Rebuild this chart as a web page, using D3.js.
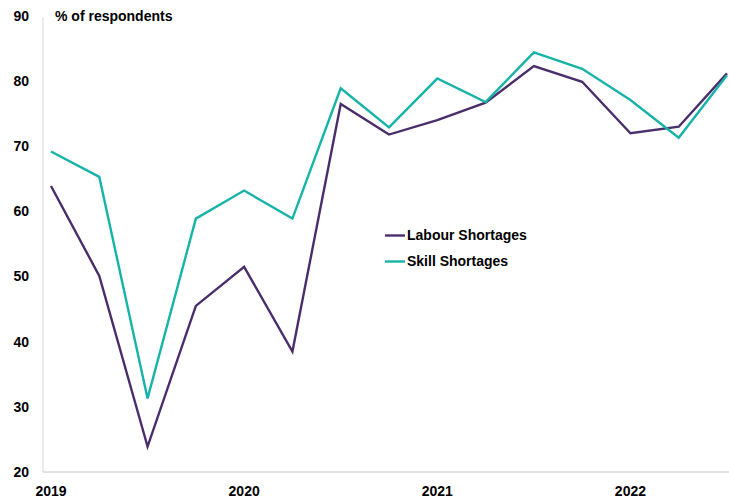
<!DOCTYPE html>
<html>
<head>
<meta charset="utf-8">
<script src="https://cdn.jsdelivr.net/npm/d3@7"></script>
<style>
  body { margin: 0; background: #fff; }
  svg { display: block; font-family: "Liberation Sans", Arial, sans-serif; }
</style>
</head>
<body>
<svg id="chart" width="729" height="499"></svg>
<script>
// quarterly survey, 2019 Q1 .. 2022 Q3
const quarters = [
  "2019Q1", "2019Q2", "2019Q3", "2019Q4",
  "2020Q1", "2020Q2", "2020Q3", "2020Q4",
  "2021Q1", "2021Q2", "2021Q3", "2021Q4",
  "2022Q1", "2022Q2", "2022Q3",
];
const labour = [63.9, 50.1, 23.9, 45.5, 51.5, 38.5, 76.5, 71.8, 74.0, 76.7, 82.3, 79.9, 72.0, 73.0, 81.2];
const skill = [69.2, 65.3, 31.3, 58.9, 63.2, 58.9, 78.9, 72.9, 80.4, 76.8, 84.4, 81.9, 77.1, 71.3, 80.9];
const yTicks = [20, 30, 40, 50, 60, 70, 80, 90];
const yearTicks = ["2019Q1", "2020Q1", "2021Q1", "2022Q1"];

const width = 729,
  height = 499,
  margin = { top: 16, right: 2, bottom: 27, left: 43 };

const svg = d3.select("#chart");

const x = d3.scalePoint()
  .domain(quarters)
  .range([51, width - margin.right]);

const y = d3.scaleLinear()
  .domain([20, 90])
  .range([height - margin.bottom, margin.top]);

const series = [
  { name: "Labour Shortages", values: labour, color: "#4A2D6B" },
  { name: "Skill Shortages", values: skill, color: "#17B3A8" },
];

// axis lines
svg.append("line")
  .attr("x1", margin.left).attr("x2", margin.left)
  .attr("y1", margin.top + 1).attr("y2", y(20))
  .attr("stroke", "#d9d9d9").attr("stroke-width", 1);

svg.append("line")
  .attr("x1", margin.left).attr("x2", width)
  .attr("y1", y(20)).attr("y2", y(20))
  .attr("stroke", "#d9d9d9").attr("stroke-width", 1.5);

// y tick labels
svg.append("g")
  .selectAll("text")
  .data(yTicks)
  .join("text")
  .attr("x", 29)
  .attr("y", (d) => y(d))
  .attr("dy", "0.35em")
  .attr("text-anchor", "end")
  .attr("font-size", 14)
  .attr("font-weight", "bold")
  .attr("fill", "#000")
  .text((d) => d);

// x tick labels (years)
svg.append("g")
  .selectAll("text")
  .data(yearTicks)
  .join("text")
  .attr("x", (d) => x(d))
  .attr("y", 491)
  .attr("dy", "0.35em")
  .attr("text-anchor", "middle")
  .attr("font-size", 14)
  .attr("font-weight", "bold")
  .attr("fill", "#000")
  .text((d) => d.slice(0, 4));

// unit label
svg.append("text")
  .attr("x", 55)
  .attr("y", y(90))
  .attr("dy", "0.35em")
  .attr("font-size", 14)
  .attr("font-weight", "bold")
  .attr("fill", "#000")
  .text("% of respondents");

// lines
const line = d3.line()
  .x((d, i) => x(quarters[i]))
  .y((d) => y(d));

svg.append("g")
  .selectAll("path")
  .data(series)
  .join("path")
  .attr("d", (d) => line(d.values))
  .attr("fill", "none")
  .attr("stroke", (d) => d.color)
  .attr("stroke-width", 2.4)
  .attr("stroke-linejoin", "miter");

// legend
const legend = svg.append("g")
  .selectAll("g")
  .data(series)
  .join("g")
  .attr("transform", (d, i) => "translate(385," + (235.5 + i * 26) + ")");

legend.append("line")
  .attr("x1", 0).attr("x2", 20)
  .attr("stroke", (d) => d.color)
  .attr("stroke-width", 2.4);

legend.append("text")
  .attr("x", 22)
  .attr("dy", "0.35em")
  .attr("font-size", 14)
  .attr("font-weight", "bold")
  .attr("fill", "#000")
  .text((d) => d.name);
</script>
</body>
</html>
